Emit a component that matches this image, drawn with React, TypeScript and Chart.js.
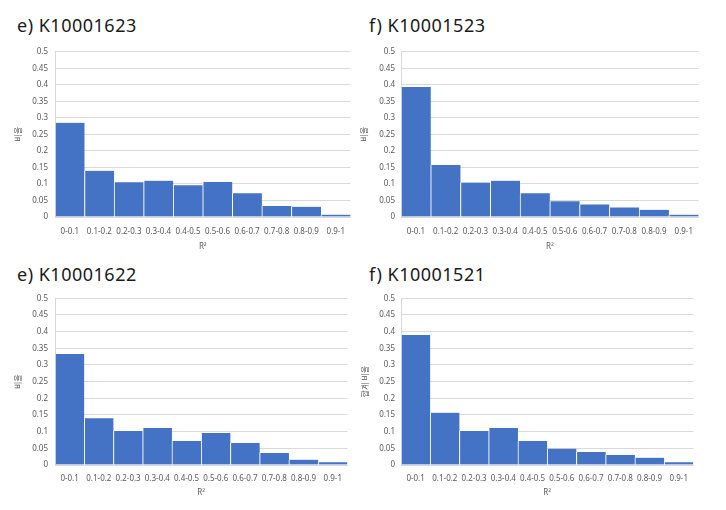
import React, { useEffect, useRef } from 'react';
import { Chart, registerables } from 'chart.js';

Chart.register(...registerables);

const categories = ['0-0.1', '0.1-0.2', '0.2-0.3', '0.3-0.4', '0.4-0.5', '0.5-0.6', '0.6-0.7', '0.7-0.8', '0.8-0.9', '0.9-1'];
const yTickLabels = ['0', '0.05', '0.1', '0.15', '0.2', '0.25', '0.3', '0.35', '0.4', '0.45', '0.5'];

const valuesK10001623 = [0.285, 0.14, 0.105, 0.11, 0.096, 0.106, 0.072, 0.033, 0.031, 0.007];
const valuesK10001523 = [0.393, 0.157, 0.104, 0.11, 0.072, 0.048, 0.038, 0.029, 0.022, 0.007];
const valuesK10001622 = [0.333, 0.14, 0.102, 0.111, 0.072, 0.096, 0.066, 0.036, 0.016, 0.008];
const valuesK10001521 = [0.39, 0.157, 0.102, 0.111, 0.072, 0.049, 0.039, 0.03, 0.022, 0.008];

const panelTitles = ['e) K10001623', 'f) K10001523', 'e) K10001622', 'f) K10001521'];
const yAxisTitles = ['비율', '비율', '비율', '합계 비율'];
const xAxisTitle = 'R²';

const FONT = "'Noto Sans', 'Noto Sans CJK KR', sans-serif";
const TICK_COLOR = '#595959';
const GRID_COLOR = '#d9d9d9';
const BAR_COLOR = '#4472C4';

type PanelCfg = {
  title: string;
  values: number[];
  yTitle: string;
  cx: number;
  cy: number;
  cw: number;
  ch: number;
  padTop: number;
  yW: number;
  xH: number;
  yTickPad: number;
  xTickPad: number;
  yTitlePad: number;
  xTitlePad: number;
  titleX: number;
  titleY: number;
};

const panels: PanelCfg[] = [
  { title: panelTitles[0], values: valuesK10001623, yTitle: yAxisTitles[0], cx: 0, cy: 39, cw: 355, ch: 218, padTop: 12.7, yW: 55, xH: 40, yTickPad: 7, xTickPad: 10, yTitlePad: 14, xTitlePad: 5.2, titleX: 17, titleY: 16 },
  { title: panelTitles[1], values: valuesK10001523, yTitle: yAxisTitles[1], cx: 358, cy: 39, cw: 345, ch: 218, padTop: 12.7, yW: 43, xH: 40, yTickPad: 6, xTickPad: 10, yTitlePad: 1.5, xTitlePad: 5.2, titleX: 369, titleY: 16 },
  { title: panelTitles[2], values: valuesK10001622, yTitle: yAxisTitles[2], cx: 0, cy: 285, cw: 351, ch: 220, padTop: 13.3, yW: 55, xH: 40, yTickPad: 7, xTickPad: 9, yTitlePad: 14, xTitlePad: 7.2, titleX: 17, titleY: 265 },
  { title: panelTitles[3], values: valuesK10001521, yTitle: yAxisTitles[3], cx: 358, cy: 285, cw: 339, ch: 220, padTop: 13.3, yW: 43, xH: 40, yTickPad: 6, xTickPad: 9, yTitlePad: 3, xTitlePad: 7.2, titleX: 369, titleY: 265 },
];

function Panel({ cfg }: { cfg: PanelCfg }) {
  const ref = useRef<HTMLCanvasElement>(null);
  useEffect(() => {
    const chart = new Chart(ref.current as HTMLCanvasElement, {
      type: 'bar',
      data: {
        labels: categories,
        datasets: [
          {
            data: cfg.values,
            backgroundColor: BAR_COLOR,
            borderColor: '#ffffff',
            borderWidth: { left: 1, right: 0, top: 0, bottom: 0 },
            borderSkipped: false,
            categoryPercentage: 1,
            barPercentage: 1,
          },
        ],
      },
      options: {
        responsive: false,
        animation: false,
        devicePixelRatio: 1,
        layout: { padding: { top: cfg.padTop, right: 0, left: 0, bottom: 0 } },
        plugins: {
          legend: { display: false },
          tooltip: { enabled: false },
          title: { display: false },
        },
        scales: {
          x: {
            grid: { display: false, drawTicks: false },
            border: { display: true, color: GRID_COLOR },
            ticks: {
              color: TICK_COLOR,
              font: { family: FONT, size: 8 },
              padding: cfg.xTickPad,
              maxRotation: 0,
              autoSkip: false,
            },
            title: {
              display: true,
              text: xAxisTitle,
              color: TICK_COLOR,
              font: { family: FONT, size: 8 },
              padding: { top: 0, bottom: cfg.xTitlePad },
            },
            afterFit: (s: any) => {
              s.height = cfg.xH;
            },
          },
          y: {
            min: 0,
            max: 0.5,
            ticks: {
              stepSize: 0.05,
              color: TICK_COLOR,
              font: { family: FONT, size: 8 },
              padding: cfg.yTickPad,
              callback: (_v: any, i: number) => yTickLabels[i],
            },
            grid: { color: GRID_COLOR, drawTicks: false },
            border: { display: true, color: GRID_COLOR },
            title: {
              display: true,
              text: cfg.yTitle,
              color: TICK_COLOR,
              font: { family: FONT, size: 8 },
              padding: { top: cfg.yTitlePad, bottom: 0 },
            },
            afterFit: (s: any) => {
              s.width = cfg.yW;
            },
          },
        },
      },
    } as any);
    return () => chart.destroy();
  }, [cfg]);
  return (
    <>
      <div
        style={{
          position: 'absolute',
          left: cfg.titleX,
          top: cfg.titleY,
          fontFamily: FONT,
          fontSize: 18,
          lineHeight: '18px',
          letterSpacing: '0.5px',
          color: '#1a1a1a',
          whiteSpace: 'nowrap',
        }}
      >
        {cfg.title}
      </div>
      <canvas
        ref={ref}
        width={cfg.cw}
        height={cfg.ch}
        style={{ position: 'absolute', left: cfg.cx, top: cfg.cy, width: cfg.cw, height: cfg.ch }}
      />
    </>
  );
}

export default function App() {
  return (
    <div
      style={{
        position: 'absolute',
        left: 0,
        top: 0,
        width: 726,
        height: 510,
        background: '#ffffff',
        overflow: 'hidden',
      }}
    >
      {panels.map((p, i) => (
        <Panel key={i} cfg={p} />
      ))}
    </div>
  );
}
